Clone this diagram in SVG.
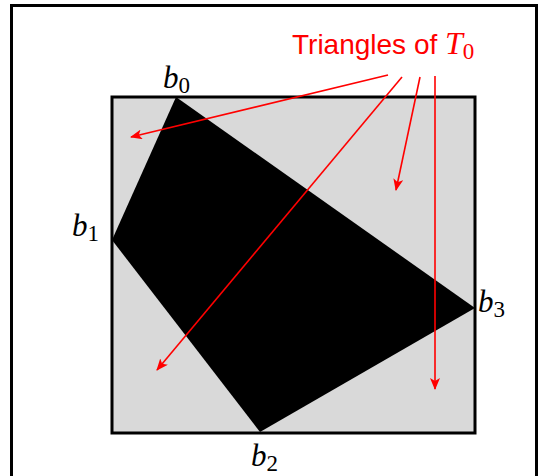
<svg xmlns="http://www.w3.org/2000/svg" width="541" height="476" viewBox="0 0 541 476">
<style>
.m{font-family:"Liberation Serif","DejaVu Serif",serif;font-style:italic;font-size:31px;fill:#000}
.s{font-style:normal;font-size:23px}
.red{stroke:#ff0000;stroke-width:1.6;fill:none}
</style>
<defs>
<marker id="ah" viewBox="0 0 12 10" refX="11" refY="5" markerWidth="12" markerHeight="10" markerUnits="userSpaceOnUse" orient="auto">
<path d="M0,0 L12,5 L0,10 L3,5 Z" fill="#ff0000"/>
</marker>
</defs>
<rect x="0" y="0" width="541" height="476" fill="#fff"/>
<rect x="11.5" y="5.5" width="525" height="480" fill="none" stroke="#000" stroke-width="3"/>
<g id="square">
<rect x="112" y="97" width="363" height="336" fill="#d9d9d9" stroke="#000" stroke-width="3"/>
</g>
<g id="polygon">
<polygon points="176,97 112,240 260,432 475,308" fill="#000"/>
</g>
<g id="b0"><text class="m" x="163" y="88">b<tspan class="s" dy="5">0</tspan></text></g>
<g id="b1"><text class="m" x="72" y="236">b<tspan class="s" dy="5">1</tspan></text></g>
<g id="b2"><text class="m" x="251" y="466">b<tspan class="s" dy="5">2</tspan></text></g>
<g id="b3"><text class="m" x="478" y="312">b<tspan class="s" dy="5">3</tspan></text></g>
<g id="label">
<text x="292" y="54" font-family="Liberation Sans,Arial,sans-serif" font-size="28" fill="#ff0000">Triangles of <tspan font-family="Liberation Serif,serif" font-style="italic" font-size="32">T</tspan><tspan font-family="Liberation Serif,serif" font-size="23" dy="5">0</tspan></text>
</g>
<g id="connectors">
<line class="red" x1="388" y1="75" x2="131" y2="137" marker-end="url(#ah)"/>
<line class="red" x1="402" y1="77" x2="157" y2="370" marker-end="url(#ah)"/>
<line class="red" x1="420" y1="77" x2="396" y2="190" marker-end="url(#ah)"/>
<line class="red" x1="435" y1="76" x2="435" y2="389" marker-end="url(#ah)"/>
</g>
</svg>
